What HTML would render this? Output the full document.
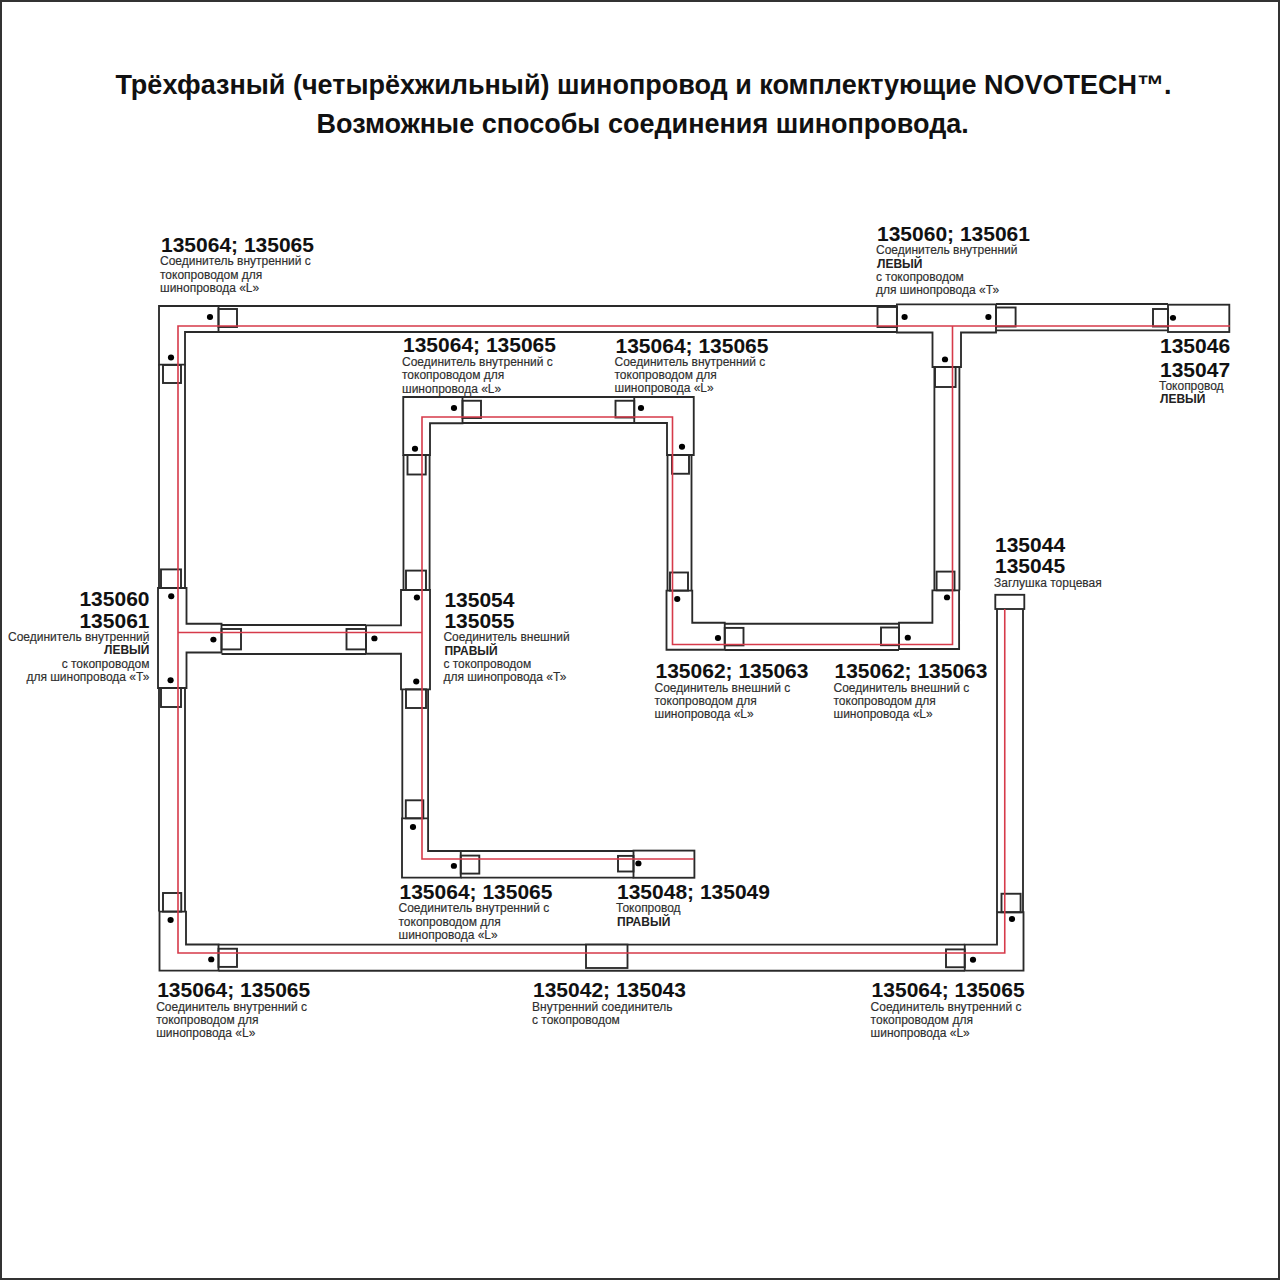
<!DOCTYPE html>
<html><head><meta charset="utf-8"><style>
html,body{margin:0;padding:0;background:#fff;}
body{width:1280px;height:1280px;overflow:hidden;position:relative;}
svg{position:absolute;left:0;top:0;}
.t{font-family:"Liberation Sans",sans-serif;font-weight:bold;font-size:27px;fill:#111;}
.n{font-family:"Liberation Sans",sans-serif;font-weight:bold;font-size:21px;fill:#111;}
.b{font-family:"Liberation Sans",sans-serif;font-weight:bold;font-size:12.0px;fill:#222;}
.d{font-family:"Liberation Sans",sans-serif;font-size:12.0px;fill:#2e2e2e;stroke:#2e2e2e;stroke-width:0.15px;}
</style></head><body>
<svg width="1280" height="1280" viewBox="0 0 1280 1280">
<rect x="1" y="1" width="1278" height="1278" fill="#fff" stroke="#333" stroke-width="2"/>
<text x="643.5" y="94.3" class="t" text-anchor="middle">Трёхфазный (четырёхжильный) шинопровод и комплектующие NOVOTECH™.</text><text x="642.7" y="132.8" class="t" text-anchor="middle">Возможные способы соединения шинопровода.</text>
<line x1="218.5" y1="306" x2="897" y2="306" stroke="#2a2a2a" stroke-width="1.85"/><line x1="218.5" y1="332" x2="897" y2="332" stroke="#2a2a2a" stroke-width="1.85"/><line x1="996" y1="304" x2="1168" y2="304" stroke="#2a2a2a" stroke-width="1.85"/><line x1="996" y1="330.3" x2="1168" y2="330.3" stroke="#2a2a2a" stroke-width="1.85"/><line x1="159" y1="364.6" x2="159" y2="588" stroke="#2a2a2a" stroke-width="1.85"/><line x1="185" y1="364.6" x2="185" y2="588" stroke="#2a2a2a" stroke-width="1.85"/><line x1="159" y1="688" x2="159" y2="911.6" stroke="#2a2a2a" stroke-width="1.85"/><line x1="185" y1="688" x2="185" y2="911.6" stroke="#2a2a2a" stroke-width="1.85"/><line x1="218.5" y1="944.6" x2="964.75" y2="944.6" stroke="#2a2a2a" stroke-width="1.85"/><line x1="218.5" y1="970.7" x2="964.75" y2="970.7" stroke="#2a2a2a" stroke-width="1.85"/><line x1="997" y1="609" x2="997" y2="912.25" stroke="#2a2a2a" stroke-width="1.85"/><line x1="1023" y1="609" x2="1023" y2="912.25" stroke="#2a2a2a" stroke-width="1.85"/><line x1="221.5" y1="625" x2="366" y2="625" stroke="#2a2a2a" stroke-width="1.85"/><line x1="221.5" y1="654" x2="366" y2="654" stroke="#2a2a2a" stroke-width="1.85"/><line x1="403.5" y1="455" x2="403.5" y2="590" stroke="#2a2a2a" stroke-width="1.85"/><line x1="429.6" y1="455" x2="429.6" y2="590" stroke="#2a2a2a" stroke-width="1.85"/><line x1="462.5" y1="397" x2="634.25" y2="397" stroke="#2a2a2a" stroke-width="1.85"/><line x1="462.5" y1="423" x2="634.25" y2="423" stroke="#2a2a2a" stroke-width="1.85"/><line x1="667.5" y1="455" x2="667.5" y2="590.6" stroke="#2a2a2a" stroke-width="1.85"/><line x1="691.5" y1="455" x2="691.5" y2="590.6" stroke="#2a2a2a" stroke-width="1.85"/><line x1="724.75" y1="623.75" x2="899" y2="623.75" stroke="#2a2a2a" stroke-width="1.85"/><line x1="724.75" y1="650" x2="899" y2="650" stroke="#2a2a2a" stroke-width="1.85"/><line x1="934.4" y1="367" x2="934.4" y2="590.3" stroke="#2a2a2a" stroke-width="1.85"/><line x1="959.4" y1="367" x2="959.4" y2="590.3" stroke="#2a2a2a" stroke-width="1.85"/><line x1="402.3" y1="689.4" x2="402.3" y2="818.3" stroke="#2a2a2a" stroke-width="1.85"/><line x1="428.1" y1="689.4" x2="428.1" y2="818.3" stroke="#2a2a2a" stroke-width="1.85"/><line x1="460.75" y1="851" x2="633.5" y2="851" stroke="#2a2a2a" stroke-width="1.85"/><line x1="460.75" y1="877.6" x2="633.5" y2="877.6" stroke="#2a2a2a" stroke-width="1.85"/><polygon points="159,306 218.5,306 218.5,332 185,332 185,364.6 159,364.6" fill="#fff" stroke="#2a2a2a" stroke-width="1.85" stroke-linejoin="miter"/><polygon points="158,588 186.5,588 186.5,623.75 221.5,623.75 221.5,652.5 186.5,652.5 186.5,688 158,688" fill="#fff" stroke="#2a2a2a" stroke-width="1.85" stroke-linejoin="miter"/><polygon points="159.5,911.6 186,911.6 186,944.5 218.5,944.5 218.5,970.6 159.5,970.6" fill="#fff" stroke="#2a2a2a" stroke-width="1.85" stroke-linejoin="miter"/><polygon points="964.75,944.6 997,944.6 997,912.25 1023.5,912.25 1023.5,970.6 964.75,970.6" fill="#fff" stroke="#2a2a2a" stroke-width="1.85" stroke-linejoin="miter"/><rect x="995.3" y="594.8" width="29.0" height="14.2" fill="#fff" stroke="#2a2a2a" stroke-width="1.85"/><polygon points="401,590 430,590 430,689.4 401,689.4 401,653.75 366,653.75 366,625.4 401,625.4" fill="#fff" stroke="#2a2a2a" stroke-width="1.85" stroke-linejoin="miter"/><polygon points="403.25,397 462.5,397 462.5,423.25 430,423.25 430,455 403.25,455" fill="#fff" stroke="#2a2a2a" stroke-width="1.85" stroke-linejoin="miter"/><polygon points="634.25,397 693.75,397 693.75,455 667,455 667,423 634.25,423" fill="#fff" stroke="#2a2a2a" stroke-width="1.85" stroke-linejoin="miter"/><polygon points="666.5,590.6 692.25,590.6 692.25,622.75 724.75,622.75 724.75,649.75 666.5,649.75" fill="#fff" stroke="#2a2a2a" stroke-width="1.85" stroke-linejoin="miter"/><polygon points="899,622.7 932.4,622.7 932.4,590.3 959.1,590.3 959.1,649 899,649" fill="#fff" stroke="#2a2a2a" stroke-width="1.85" stroke-linejoin="miter"/><polygon points="896.9,304.4 996,304.4 996,332.5 961,332.5 961,367 932.5,367 932.5,332.5 896.9,332.5" fill="#fff" stroke="#2a2a2a" stroke-width="1.85" stroke-linejoin="miter"/><polygon points="402,818.3 428.1,818.3 428.1,851 460.75,851 460.75,877.6 402,877.6" fill="#fff" stroke="#2a2a2a" stroke-width="1.85" stroke-linejoin="miter"/><rect x="633.5" y="850.6" width="60.9" height="27.15" fill="#fff" stroke="#2a2a2a" stroke-width="1.85"/><rect x="1168" y="304.7" width="61.3" height="27.3" fill="#fff" stroke="#2a2a2a" stroke-width="1.85"/><rect x="586" y="944.6" width="41.5" height="23.4" fill="#fff" stroke="#2a2a2a" stroke-width="1.85"/><rect x="218.5" y="309" width="18.5" height="18" fill="none" stroke="#2a2a2a" stroke-width="1.9"/><rect x="163" y="365" width="18" height="18" fill="none" stroke="#2a2a2a" stroke-width="1.9"/><rect x="877.5" y="307" width="19.5" height="20" fill="none" stroke="#2a2a2a" stroke-width="1.9"/><rect x="996" y="307.5" width="19.6" height="19.0" fill="none" stroke="#2a2a2a" stroke-width="1.9"/><rect x="935" y="367" width="20.6" height="20" fill="none" stroke="#2a2a2a" stroke-width="1.9"/><rect x="1153" y="309" width="15" height="17.5" fill="none" stroke="#2a2a2a" stroke-width="1.9"/><rect x="161" y="569.4" width="20" height="18.6" fill="none" stroke="#2a2a2a" stroke-width="1.9"/><rect x="161" y="688" width="20" height="19" fill="none" stroke="#2a2a2a" stroke-width="1.9"/><rect x="221.5" y="629" width="19.5" height="20.4" fill="none" stroke="#2a2a2a" stroke-width="1.9"/><rect x="346.5" y="629" width="19.5" height="20.4" fill="none" stroke="#2a2a2a" stroke-width="1.9"/><rect x="406" y="570.6" width="20" height="19.4" fill="none" stroke="#2a2a2a" stroke-width="1.9"/><rect x="406" y="689.4" width="20" height="18.6" fill="none" stroke="#2a2a2a" stroke-width="1.9"/><rect x="462.5" y="400.75" width="18.5" height="17.25" fill="none" stroke="#2a2a2a" stroke-width="1.9"/><rect x="407.5" y="455" width="18.25" height="19.5" fill="none" stroke="#2a2a2a" stroke-width="1.9"/><rect x="615.5" y="400.75" width="18.75" height="16.75" fill="none" stroke="#2a2a2a" stroke-width="1.9"/><rect x="672" y="455" width="17" height="18.75" fill="none" stroke="#2a2a2a" stroke-width="1.9"/><rect x="670" y="572.5" width="18" height="18.1" fill="none" stroke="#2a2a2a" stroke-width="1.9"/><rect x="724.75" y="627.9" width="18.75" height="17.5" fill="none" stroke="#2a2a2a" stroke-width="1.9"/><rect x="936.6" y="571.6" width="17.9" height="18.7" fill="none" stroke="#2a2a2a" stroke-width="1.9"/><rect x="881" y="627.5" width="18" height="17.7" fill="none" stroke="#2a2a2a" stroke-width="1.9"/><rect x="163" y="893" width="18.25" height="18.6" fill="none" stroke="#2a2a2a" stroke-width="1.9"/><rect x="218.5" y="948.75" width="18.5" height="18.15" fill="none" stroke="#2a2a2a" stroke-width="1.9"/><rect x="946" y="949.4" width="18.75" height="17.85" fill="none" stroke="#2a2a2a" stroke-width="1.9"/><rect x="1001.5" y="893.75" width="19.1" height="18.5" fill="none" stroke="#2a2a2a" stroke-width="1.9"/><rect x="405.8" y="800.3" width="17.5" height="18.0" fill="none" stroke="#2a2a2a" stroke-width="1.9"/><rect x="460.75" y="855.6" width="18.55" height="18.0" fill="none" stroke="#2a2a2a" stroke-width="1.9"/><rect x="618" y="855.9" width="15.5" height="15.6" fill="none" stroke="#2a2a2a" stroke-width="1.9"/><polyline points="1230,326 178,326 178,953 1004.75,953 1004.75,609" fill="none" stroke="#d63a4a" stroke-width="1.6"/><polyline points="952.5,326 952.5,644.5 672.5,644.5 672.5,417 422,417 422,859 694,859" fill="none" stroke="#d63a4a" stroke-width="1.6"/><polyline points="178,632.5 422,632.5" fill="none" stroke="#d63a4a" stroke-width="1.6"/>
<ellipse cx="210" cy="317" rx="3.1" ry="2.9" fill="#000"/><ellipse cx="171" cy="357.5" rx="3.1" ry="2.9" fill="#000"/><ellipse cx="904.6" cy="317" rx="3.1" ry="2.9" fill="#000"/><ellipse cx="988.4" cy="317" rx="3.1" ry="2.9" fill="#000"/><ellipse cx="945" cy="359.4" rx="3.1" ry="2.9" fill="#000"/><ellipse cx="1173" cy="317.8" rx="3.1" ry="2.9" fill="#000"/><ellipse cx="171.25" cy="596.25" rx="3.1" ry="2.9" fill="#000"/><ellipse cx="170.6" cy="680.25" rx="3.1" ry="2.9" fill="#000"/><ellipse cx="213.4" cy="639.6" rx="3.1" ry="2.9" fill="#000"/><ellipse cx="416.9" cy="597.5" rx="3.1" ry="2.9" fill="#000"/><ellipse cx="416.25" cy="681.5" rx="3.1" ry="2.9" fill="#000"/><ellipse cx="374.4" cy="638.4" rx="3.1" ry="2.9" fill="#000"/><ellipse cx="454" cy="408" rx="3.1" ry="2.9" fill="#000"/><ellipse cx="415" cy="448.75" rx="3.1" ry="2.9" fill="#000"/><ellipse cx="641" cy="408" rx="3.1" ry="2.9" fill="#000"/><ellipse cx="682" cy="446.75" rx="3.1" ry="2.9" fill="#000"/><ellipse cx="677.25" cy="599" rx="3.1" ry="2.9" fill="#000"/><ellipse cx="718" cy="638" rx="3.1" ry="2.9" fill="#000"/><ellipse cx="947" cy="597.4" rx="3.1" ry="2.9" fill="#000"/><ellipse cx="907.8" cy="637.7" rx="3.1" ry="2.9" fill="#000"/><ellipse cx="170.6" cy="920" rx="3.1" ry="2.9" fill="#000"/><ellipse cx="211.25" cy="959.4" rx="3.1" ry="2.9" fill="#000"/><ellipse cx="1012" cy="919" rx="3.1" ry="2.9" fill="#000"/><ellipse cx="973" cy="959.75" rx="3.1" ry="2.9" fill="#000"/><ellipse cx="413" cy="827" rx="3.1" ry="2.9" fill="#000"/><ellipse cx="453.9" cy="865.9" rx="3.1" ry="2.9" fill="#000"/><ellipse cx="638.4" cy="863.4" rx="3.1" ry="2.9" fill="#000"/>
<text x="161" y="251.6" class="n" text-anchor="start">135064; 135065</text><text x="160" y="265.3" class="d" text-anchor="start">Соединитель внутренний с</text><text x="160" y="278.6" class="d" text-anchor="start">токопроводом для</text><text x="160" y="291.6" class="d" text-anchor="start">шинопровода «L»</text><text x="877" y="240.8" class="n" text-anchor="start">135060; 135061</text><text x="876" y="254.1" class="d" text-anchor="start">Соединитель внутренний</text><text x="877" y="267.7" class="b" text-anchor="start">ЛЕВЫЙ</text><text x="876" y="281.2" class="d" text-anchor="start">с токопроводом</text><text x="876" y="294.4" class="d" text-anchor="start">для шинопровода «Т»</text><text x="1160" y="352.7" class="n" text-anchor="start">135046</text><text x="1160" y="376.5" class="n" text-anchor="start">135047</text><text x="1159" y="389.8" class="d" text-anchor="start">Токопровод</text><text x="1160" y="403.4" class="b" text-anchor="start">ЛЕВЫЙ</text><text x="403" y="352.2" class="n" text-anchor="start">135064; 135065</text><text x="402" y="366.2" class="d" text-anchor="start">Соединитель внутренний с</text><text x="402" y="379.4" class="d" text-anchor="start">токопроводом для</text><text x="402" y="393.2" class="d" text-anchor="start">шинопровода «L»</text><text x="615.5" y="352.6" class="n" text-anchor="start">135064; 135065</text><text x="614.5" y="366.1" class="d" text-anchor="start">Соединитель внутренний с</text><text x="614.5" y="379.1" class="d" text-anchor="start">токопроводом для</text><text x="614.5" y="392.40000000000003" class="d" text-anchor="start">шинопровода «L»</text><text x="995" y="551.8" class="n" text-anchor="start">135044</text><text x="995" y="572.7" class="n" text-anchor="start">135045</text><text x="994" y="586.5" class="d" text-anchor="start">Заглушка торцевая</text><text x="149.5" y="606.4" class="n" text-anchor="end">135060</text><text x="149.5" y="627.5" class="n" text-anchor="end">135061</text><text x="149.5" y="641.3" class="d" text-anchor="end">Соединитель внутренний</text><text x="149.5" y="654.4" class="b" text-anchor="end">ЛЕВЫЙ</text><text x="149.5" y="668" class="d" text-anchor="end">с токопроводом</text><text x="149.5" y="681" class="d" text-anchor="end">для шинопровода «Т»</text><text x="444.4" y="606.5" class="n" text-anchor="start">135054</text><text x="444.4" y="627.5" class="n" text-anchor="start">135055</text><text x="443.4" y="641.2" class="d" text-anchor="start">Соединитель внешний</text><text x="444.4" y="654.5" class="b" text-anchor="start">ПРАВЫЙ</text><text x="443.4" y="668" class="d" text-anchor="start">с токопроводом</text><text x="443.4" y="681" class="d" text-anchor="start">для шинопровода «Т»</text><text x="655.5" y="678" class="n" text-anchor="start">135062; 135063</text><text x="654.5" y="691.5" class="d" text-anchor="start">Соединитель внешний с</text><text x="654.5" y="705" class="d" text-anchor="start">токопроводом для</text><text x="654.5" y="718" class="d" text-anchor="start">шинопровода «L»</text><text x="834.5" y="677.6" class="n" text-anchor="start">135062; 135063</text><text x="833.5" y="691.5" class="d" text-anchor="start">Соединитель внешний с</text><text x="833.5" y="705.0" class="d" text-anchor="start">токопроводом для</text><text x="833.5" y="718.0" class="d" text-anchor="start">шинопровода «L»</text><text x="399.5" y="898.9" class="n" text-anchor="start">135064; 135065</text><text x="398.5" y="911.9" class="d" text-anchor="start">Соединитель внутренний с</text><text x="398.5" y="925.9" class="d" text-anchor="start">токопроводом для</text><text x="398.5" y="938.5" class="d" text-anchor="start">шинопровода «L»</text><text x="617" y="898.6" class="n" text-anchor="start">135048; 135049</text><text x="616" y="912.2" class="d" text-anchor="start">Токопровод</text><text x="617" y="925.7" class="b" text-anchor="start">ПРАВЫЙ</text><text x="157.2" y="996.9" class="n" text-anchor="start">135064; 135065</text><text x="156.2" y="1010.9" class="d" text-anchor="start">Соединитель внутренний с</text><text x="156.2" y="1023.5" class="d" text-anchor="start">токопроводом для</text><text x="156.2" y="1037.4" class="d" text-anchor="start">шинопровода «L»</text><text x="533" y="996.9" class="n" text-anchor="start">135042; 135043</text><text x="532" y="1010.9" class="d" text-anchor="start">Внутренний соединитель</text><text x="532" y="1024.1" class="d" text-anchor="start">с токопроводом</text><text x="871.6" y="996.9" class="n" text-anchor="start">135064; 135065</text><text x="870.6" y="1010.9" class="d" text-anchor="start">Соединитель внутренний с</text><text x="870.6" y="1024.1" class="d" text-anchor="start">токопроводом для</text><text x="870.6" y="1037.4" class="d" text-anchor="start">шинопровода «L»</text>
</svg>
</body></html>
